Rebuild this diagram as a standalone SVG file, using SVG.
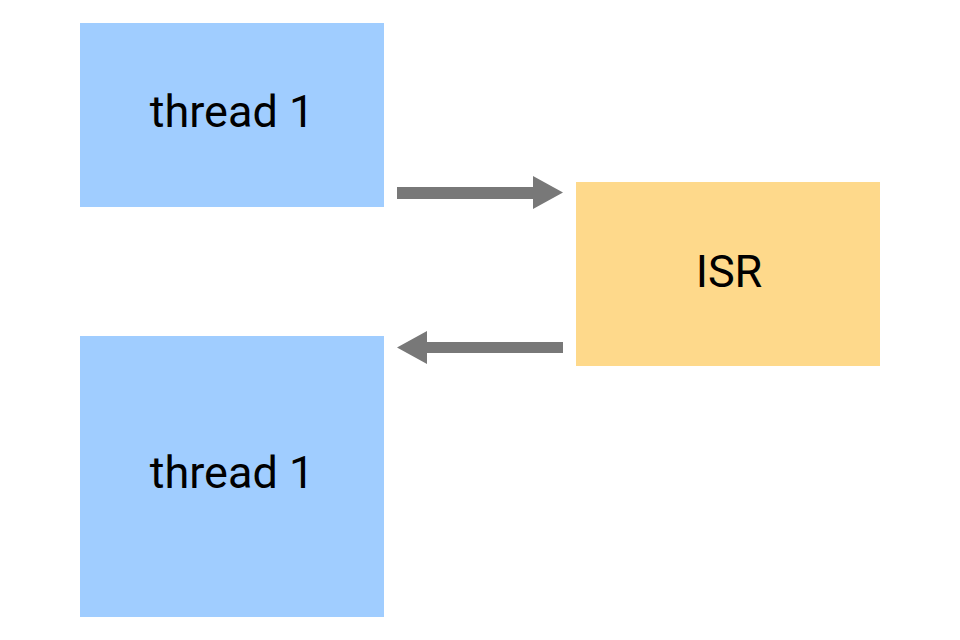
<svg xmlns="http://www.w3.org/2000/svg" width="960" height="640" viewBox="0 0 960 640">
<style>
.thread{fill:#a0cdff}
.isr{fill:#fed98b}
.lbl{font-family:Roboto,"Liberation Sans",sans-serif;font-size:45px;fill:#000;text-anchor:middle}
.arrow{fill:#787878}
</style>
<rect width="960" height="640" fill="#fff"/>
<g id="thread1-top">
<rect class="thread" x="80" y="23" width="304" height="184"/>
<text class="lbl" x="232" y="127">thread 1</text>
</g>
<g id="isr">
<rect class="isr" x="576" y="182" width="304" height="184"/>
<text class="lbl" x="729" y="287">ISR</text>
</g>
<g id="thread1-bottom">
<rect class="thread" x="80" y="336" width="304" height="281"/>
<text class="lbl" x="232" y="488">thread 1</text>
</g>
<g id="connectors">
<polygon class="arrow" points="397,187 533,187 533,176 563,192.5 533,209 533,199 397,199"/>
<polygon class="arrow" points="563,342 427,342 427,331 397,347.5 427,364 427,353 563,353"/>
</g>
</svg>
